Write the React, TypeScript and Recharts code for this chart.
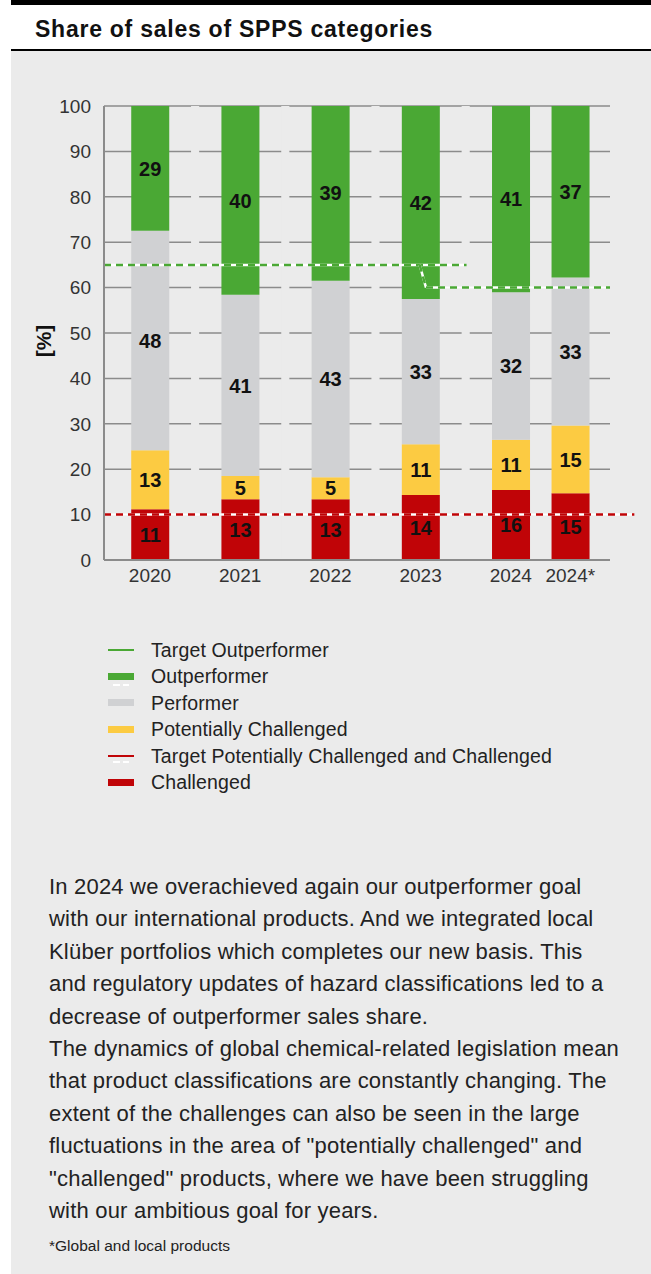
import {
  BarChart,
  Bar,
  XAxis,
  YAxis,
  CartesianGrid,
  ReferenceLine,
  ReferenceArea,
  LabelList,
} from "recharts";

const FONT = '"Liberation Sans", Arial, Helvetica, sans-serif';

const years = ["2020", "2021", "2022", "2023", "2024", "2024*"];
// horizontal slot of each column, the last column sits closer to 2024
const slots = [0, 1, 2, 3, 4, 4.66];
// small breaks in the grid lines between columns
const gridBreaks = [0.5, 1.5, 2.5, 3.5];

// bar heights, in %
const challenged = [11.2, 13.4, 13.4, 14.3, 15.4, 14.7];
const potentially = [13.0, 5.1, 4.8, 11.2, 11.1, 14.9];
const performer = [48.3, 39.9, 43.3, 32.0, 32.5, 32.6];
const outperformer = [27.5, 41.6, 38.5, 42.5, 41.0, 37.8];

// printed numbers
const challengedLbl = [11, 13, 13, 14, 16, 15];
const potentiallyLbl = [13, 5, 5, 11, 11, 15];
const performerLbl = [48, 41, 43, 33, 32, 33];
const outperformerLbl = [29, 40, 39, 42, 41, 37];

const yTicks = [0, 10, 20, 30, 40, 50, 60, 70, 80, 90, 100];

const targetOutOld = 65;
const targetOutNew = 60;
const targetChallenged = 10;

const GREEN = "#4aa834";
const GRAY = "#d0d1d3";
const YELLOW = "#fccb42";
const RED = "#c00407";
const AXIS = "#8b8b8b";
const PANEL = "#ebebeb";

const data = years.map((y, i) => ({
  year: y,
  pos: slots[i],
  challenged: challenged[i],
  potentially: potentially[i],
  performer: performer[i],
  outperformer: outperformer[i],
  cLbl: challengedLbl[i],
  pLbl: potentiallyLbl[i],
  fLbl: performerLbl[i],
  oLbl: outperformerLbl[i],
}));

const xDomain = [-0.51, 5.1];

function dashed(key: string, x1: number, y1: number, x2: number, y2: number, color: string) {
  const segment = [
    { x: x1, y: y1 },
    { x: x2, y: y2 },
  ];
  return [
    <ReferenceLine
      key={key + "w"}
      segment={segment}
      stroke="#ffffff"
      strokeWidth={2.5}
      ifOverflow="visible"
    />,
    <ReferenceLine
      key={key + "c"}
      segment={segment}
      stroke={color}
      strokeWidth={2.5}
      strokeDasharray="7 5"
      ifOverflow="visible"
    />,
  ];
}

const lblStyle = {
  fill: "#111",
  fontWeight: 700,
  fontSize: 20,
  fontFamily: FONT,
};

const legendRows = [
  { label: "Target Outperformer", kind: "line", color: GREEN, dashes: false },
  { label: "Outperformer", kind: "bar", color: GREEN, dashes: true },
  { label: "Performer", kind: "bar", color: GRAY, dashes: false },
  { label: "Potentially Challenged", kind: "bar", color: YELLOW, dashes: false },
  { label: "Target Potentially Challenged and Challenged", kind: "line", color: RED, dashes: true },
  { label: "Challenged", kind: "bar", color: RED, dashes: false },
];

const paragraph = [
  "In 2024 we overachieved again our outperformer goal",
  "with our international products. And we integrated local",
  "Klüber portfolios which completes our new basis. This",
  "and regulatory updates of hazard classifications led to a",
  "decrease of outperformer sales share.",
  "The dynamics of global chemical-related legislation mean",
  "that product classifications are constantly changing. The",
  "extent of the challenges can also be seen in the large",
  'fluctuations in the area of "potentially challenged" and',
  '"challenged" products, where we have been struggling',
  "with our ambitious goal for years.",
];

function Swatch({ kind, color, dashes }: { kind: string; color: string; dashes: boolean }) {
  return (
    <svg width={26} height={26} style={{ display: "block" }}>
      {kind === "line" ? (
        <rect x={0} y={12} width={26} height={2} fill={color} />
      ) : (
        <rect x={0} y={9} width={26} height={7} fill={color} />
      )}
      {dashes && (
        <>
          <rect x={5} y={kind === "line" ? 18 : 20} width={7} height={2} fill="#fff" />
          <rect x={15} y={kind === "line" ? 18 : 20} width={6} height={2} fill="#fff" />
        </>
      )}
    </svg>
  );
}

export default function App() {
  return (
    <div
      style={{
        position: "absolute",
        left: 0,
        top: 0,
        width: 651,
        height: 1274,
        background: "#fff",
        fontFamily: FONT,
        overflow: "hidden",
      }}
    >
      <div style={{ position: "absolute", left: 11, top: 0, width: 640, height: 5, background: "#000" }} />
      <div
        style={{
          position: "absolute",
          left: 35,
          top: 15,
          fontSize: 23,
          fontWeight: 700,
          letterSpacing: 0.75,
          color: "#111",
          lineHeight: "28px",
          whiteSpace: "nowrap",
        }}
      >
        Share of sales of SPPS categories
      </div>
      <div style={{ position: "absolute", left: 11, top: 49, width: 640, height: 2, background: "#000" }} />
      <div style={{ position: "absolute", left: 11, top: 51, width: 640, height: 1223, background: PANEL }} />

      <div style={{ position: "absolute", left: 0, top: 0 }}>
        <BarChart
          width={651}
          height={600}
          data={data}
          margin={{ top: 106, right: 41, left: 14, bottom: 10 }}
          style={{ fontFamily: FONT }}
        >
          <CartesianGrid vertical={false} stroke={AXIS} strokeWidth={1.5} />
          {gridBreaks.map((v) => (
            <ReferenceArea
              key={"gap" + v}
              x1={v - 0.045}
              x2={v + 0.045}
              y1={0.5}
              y2={100}
              fill={PANEL}
              fillOpacity={1}
              stroke="none"
              ifOverflow="visible"
            />
          ))}
          <XAxis
            dataKey="pos"
            type="number"
            domain={xDomain}
            allowDataOverflow
            ticks={slots}
            interval={0}
            tickFormatter={(v) => years[slots.indexOf(v)] ?? ""}
            height={30}
            axisLine={{ stroke: AXIS, strokeWidth: 2 }}
            tickLine={false}
            tickSize={6}
            tickMargin={3}
            tick={{ fontSize: 19, fill: "#333", fontFamily: FONT }}
          />
          <YAxis
            type="number"
            domain={[0, 100]}
            ticks={yTicks}
            width={90}
            axisLine={{ stroke: AXIS, strokeWidth: 2 }}
            tickLine={false}
            tickSize={6}
            tickMargin={7}
            tick={{ fontSize: 19, fill: "#333", fontFamily: FONT }}
          />
          <Bar dataKey="challenged" stackId="s" fill={RED} barSize={38} isAnimationActive={false}>
            <LabelList dataKey="cLbl" position="center" {...lblStyle} />
          </Bar>
          <Bar dataKey="potentially" stackId="s" fill={YELLOW} barSize={38} isAnimationActive={false}>
            <LabelList dataKey="pLbl" position="center" {...lblStyle} />
          </Bar>
          <Bar dataKey="performer" stackId="s" fill={GRAY} barSize={38} isAnimationActive={false}>
            <LabelList dataKey="fLbl" position="center" {...lblStyle} />
          </Bar>
          <Bar dataKey="outperformer" stackId="s" fill={GREEN} barSize={38} isAnimationActive={false}>
            <LabelList dataKey="oLbl" position="center" {...lblStyle} />
          </Bar>
          {dashed("t1", -0.51, targetOutOld, 3.51, targetOutOld, GREEN)}
          {dashed("t2", 2.99, targetOutOld, 3.06, targetOutNew, GREEN)}
          {dashed("t3", 3.06, targetOutNew, 5.1, targetOutNew, GREEN)}
          {dashed("t4", -0.51, targetChallenged, 5.37, targetChallenged, RED)}
        </BarChart>
      </div>

      <div
        style={{
          position: "absolute",
          left: 44,
          top: 341,
          transform: "translate(-50%, -50%) rotate(-90deg)",
          fontSize: 21,
          fontWeight: 700,
          color: "#111",
          whiteSpace: "nowrap",
        }}
      >
        [%]
      </div>

      <div style={{ position: "absolute", left: 108, top: 637 }}>
        {legendRows.map((r) => (
          <div key={r.label} style={{ display: "flex", alignItems: "center", height: 26.5 }}>
            <Swatch kind={r.kind} color={r.color} dashes={r.dashes} />
            <span
              style={{
                marginLeft: 17,
                fontSize: 19.5,
                letterSpacing: 0.12,
                color: "#222",
                whiteSpace: "nowrap",
              }}
            >
              {r.label}
            </span>
          </div>
        ))}
      </div>

      <div
        style={{
          position: "absolute",
          left: 49,
          top: 871,
          fontSize: 22,
          letterSpacing: 0.2,
          lineHeight: "32.4px",
          color: "#222",
          whiteSpace: "nowrap",
        }}
      >
        {paragraph.map((line) => (
          <div key={line}>{line}</div>
        ))}
      </div>

      <div
        style={{
          position: "absolute",
          left: 49,
          top: 1236,
          fontSize: 15.5,
          color: "#222",
          lineHeight: "20px",
          whiteSpace: "nowrap",
        }}
      >
        *Global and local products
      </div>
    </div>
  );
}
